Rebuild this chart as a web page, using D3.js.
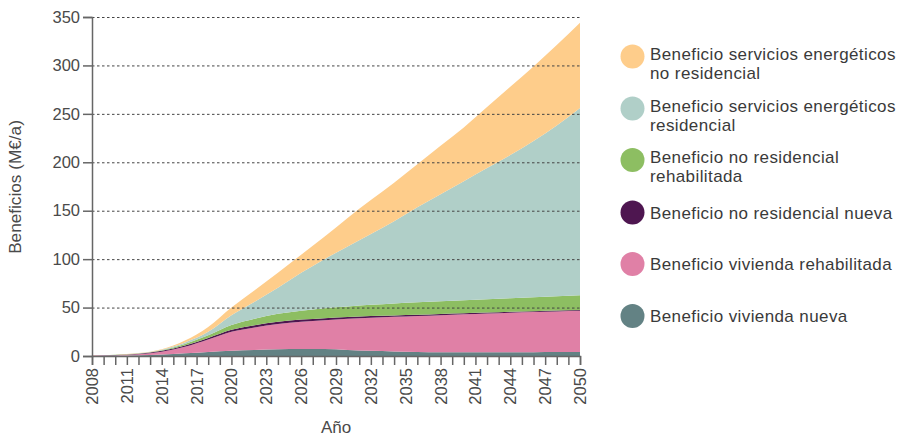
<!DOCTYPE html>
<html>
<head>
<meta charset="utf-8">
<script src="https://cdn.jsdelivr.net/npm/d3@7"></script>
<style>
  body { margin: 0; background: #fff; }
  svg { display: block; font-family: "Liberation Sans", Arial, sans-serif; }
</style>
</head>
<body>
<svg id="chart" width="903" height="439"></svg>
<script>
// ---- Data ----
const years = [2008, 2010, 2012, 2014, 2016, 2018, 2020, 2022, 2024, 2026, 2028, 2030,
               2032, 2034, 2036, 2038, 2040, 2042, 2044, 2046, 2048, 2050];
const viviendaNueva        = [0.1, 0.4, 0.8, 1.5, 2.8, 4.2, 5.5, 6.3, 7.0, 7.3, 7.2, 6.3, 5.4, 4.7, 4.2, 3.9, 3.8, 3.8, 3.9, 4.0, 4.1, 4.2];
const viviendaRehabilitada = [0.2, 0.4, 1.0, 3.0, 6.7, 12.8, 19.5, 23.2, 26.0, 28.0, 29.8, 32.2, 34.2, 35.8, 37.1, 38.3, 39.2, 40.0, 40.7, 41.3, 41.9, 42.5];
const noResidencialNueva   = [0.2, 0.3, 0.5, 0.8, 1.3, 1.6, 2.0, 2.3, 2.4, 2.3, 2.0, 1.8, 1.6, 1.4, 1.3, 1.2, 1.1, 1.0, 1.0, 1.0, 0.9, 0.9];
const noResidencialRehab   = [0.05, 0.1, 0.3, 0.7, 1.7, 2.9, 5.0, 6.7, 8.1, 9.2, 10.3, 10.9, 11.6, 12.3, 12.9, 13.2, 13.5, 13.8, 14.0, 14.3, 14.7, 15.0];
const serviciosResidencial = [0.05, 0.1, 0.2, 0.5, 1.5, 3.5, 10.0, 17.5, 27.0, 39.2, 50.7, 61.8, 73.2, 84.8, 98.0, 110.4, 122.9, 135.4, 147.9, 161.4, 176.4, 193.4];
const serviciosNoResid     = [0.05, 0.1, 0.2, 0.5, 2.0, 5.0, 8.0, 12.0, 15.5, 18.5, 23.0, 29.5, 35.0, 40.0, 44.5, 50.0, 55.5, 63.0, 70.5, 77.0, 83.0, 88.0];

const seriesKeys = ["vn", "vr", "nrn", "nrr", "sr", "snr"];
const seriesLabels = {
  snr: ["Beneficio servicios energéticos", "no residencial"],
  sr:  ["Beneficio servicios  energéticos", "residencial"],
  nrr: ["Beneficio no residencial", "rehabilitada"],
  nrn: ["Beneficio no residencial nueva"],
  vr:  ["Beneficio vivienda rehabilitada"],
  vn:  ["Beneficio vivienda nueva"]
};
const seriesColors = {
  snr: "#FECD8B", sr: "#B0CFC8", nrr: "#8DBE62",
  nrn: "#4E1650", vr: "#E080A6", vn: "#638284"
};
const legendOrder = ["snr", "sr", "nrr", "nrn", "vr", "vn"];
const yTicks = [0, 50, 100, 150, 200, 250, 300, 350];
const xTickLabels = d3.range(2008, 2051, 3);
const xMinorTicks = d3.range(2008, 2051, 1);

// ---- Build table ----
const table = years.map((y, i) => ({
  year: y,
  vn: viviendaNueva[i], vr: viviendaRehabilitada[i], nrn: noResidencialNueva[i],
  nrr: noResidencialRehab[i], sr: serviciosResidencial[i], snr: serviciosNoResid[i]
}));

const svg = d3.select("#chart");
const margin = { left: 92, right: 323, top: 17, bottom: 83 };
const W = 903, H = 439;
const x = d3.scaleLinear().domain([2008, 2050]).range([margin.left, W - margin.right]);
const y = d3.scaleLinear().domain([0, 350]).range([H - margin.bottom, margin.top]);

const stacked = d3.stack().keys(seriesKeys)(table);
const area = d3.area()
  .x(d => x(d.data.year))
  .y0(d => y(d[0]))
  .y1(d => y(d[1]))
  .curve(d3.curveMonotoneX);

svg.append("g").selectAll("path").data(stacked).join("path")
  .attr("d", area)
  .attr("fill", d => seriesColors[d.key]);

// grid (dotted, drawn over areas)
svg.append("g").selectAll("line").data(yTicks.filter(t => t > 0)).join("line")
  .attr("x1", x(2008)).attr("x2", x(2050))
  .attr("y1", d => y(d) + 0.5).attr("y2", d => y(d) + 0.5)
  .attr("stroke", "#444").attr("stroke-width", 1)
  .attr("stroke-dasharray", "2.5,2.5");

const axisColor = "#666";
const textColor = "#4a4a4a";

// y axis
const yAxis = svg.append("g").attr("transform", `translate(${x(2008)},0)`)
  .call(d3.axisLeft(y).tickValues(yTicks).tickSize(9).tickPadding(3));
yAxis.select(".domain").attr("stroke", axisColor).attr("stroke-width", 1.5);
yAxis.selectAll(".tick line").attr("stroke", axisColor).attr("stroke-width", 1.5);
yAxis.selectAll(".tick text").attr("fill", textColor).attr("font-size", 16.5)
  .attr("font-family", "Liberation Sans, Arial, sans-serif");

// x axis
const xAxis = svg.append("g").attr("transform", `translate(0,${y(0)})`)
  .call(d3.axisBottom(x).tickValues(xMinorTicks).tickSize(9).tickFormat(""));
xAxis.select(".domain").attr("stroke", axisColor).attr("stroke-width", 1.5);
xAxis.selectAll(".tick line").attr("stroke", axisColor).attr("stroke-width", 1.5);

svg.append("g").selectAll("text").data(xTickLabels).join("text")
  .attr("transform", d => `translate(${x(d) + 6},${y(0) + 12}) rotate(-90)`)
  .attr("text-anchor", "end")
  .attr("fill", textColor).attr("font-size", 16.5)
  .text(d => d);

// axis titles
svg.append("text")
  .attr("transform", `translate(21,187) rotate(-90)`)
  .attr("text-anchor", "middle").attr("fill", textColor).attr("font-size", 17.2)
  .text("Beneficios (M€/a)");
svg.append("text")
  .attr("x", 336).attr("y", 433)
  .attr("text-anchor", "middle").attr("fill", textColor).attr("font-size", 17)
  .text("Año");

// legend
const legendY = { snr: 56.5, sr: 108.5, nrr: 160, nrn: 212.5, vr: 264, vn: 316 };
const lg = svg.append("g");
legendOrder.forEach(k => {
  const cy = legendY[k];
  lg.append("circle").attr("cx", 632.5).attr("cy", cy).attr("r", 12)
    .attr("fill", seriesColors[k]);
  const lines = seriesLabels[k];
  const t = lg.append("text").attr("x", 650).attr("fill", "#3a3a3a")
    .attr("font-size", 17).attr("letter-spacing", 0.4);
  lines.forEach((ln, i) => {
    const baseline = lines.length > 1 ? cy + 3 + i * 19 : cy + 6;
    t.append("tspan").attr("x", 650).attr("y", baseline).text(ln);
  });
});
</script>
</body>
</html>
